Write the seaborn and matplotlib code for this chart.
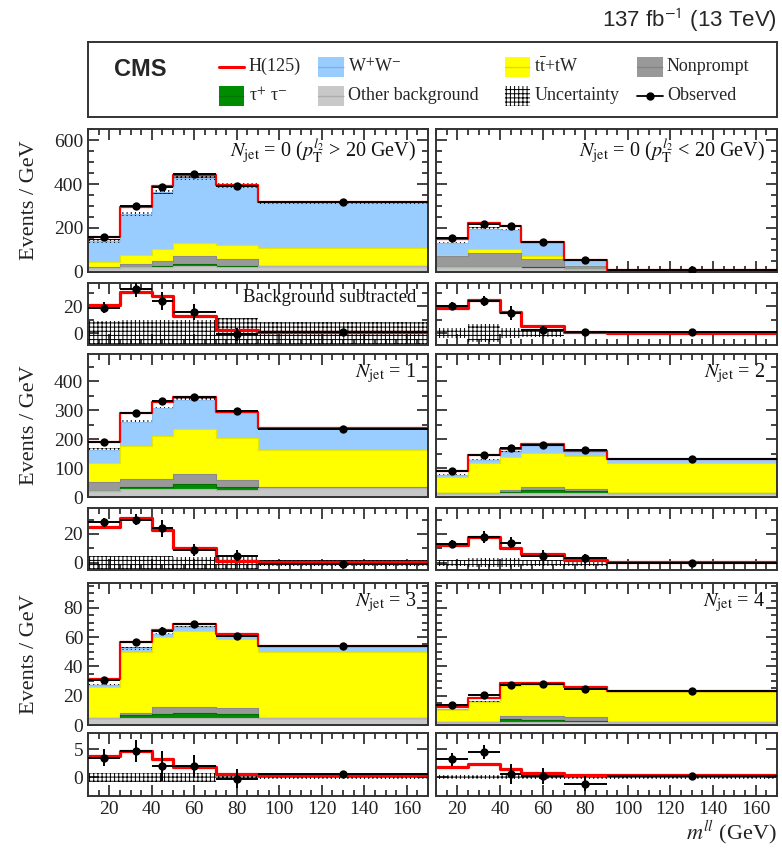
import numpy as np
import matplotlib
matplotlib.use("Agg")
import matplotlib.pyplot as plt
import seaborn as sns
from matplotlib.ticker import MultipleLocator, NullFormatter, NullLocator
from matplotlib.patches import Rectangle
from matplotlib.lines import Line2D

# ---------------- data (Events / GeV) ----------------
bin_edges = [10, 25, 40, 50, 70, 90, 170]
x_ticks = [20, 40, 60, 80, 100, 120, 140, 160]

# N_jet = 0, pT(l2) > 20 GeV
nj0a_other = [20, 22, 24, 26, 24, 26]
nj0a_tautau = [0, 1, 3, 9, 5, 0]
nj0a_nonprompt = [3, 15, 22, 37, 28, 0]
nj0a_ttbar = [21, 39, 54, 58, 65, 84]
nj0a_ww = [95, 188, 261, 298, 272, 207]
nj0a_higgs = [21, 31, 28, 13, 2, 1]
nj0a_data = [158, 298, 388, 444, 393, 318]
nj0a_err = [4, 6, 7, 6, 5, 2]
nj0a_unc = [9, 10, 10, 10, 11, 8]

# N_jet = 0, pT(l2) < 20 GeV
nj0b_other = [25, 25, 22, 18, 12, 5]
nj0b_tautau = [0, 0, 3, 3, 1, 0]
nj0b_nonprompt = [47, 62, 62, 36, 13, 0]
nj0b_ttbar = [6, 16, 16, 18, 6, 4]
nj0b_ww = [55, 93, 90, 57.5, 20.5, 0.5]
nj0b_higgs = [19, 25, 16, 5, 1, 0.2]
nj0b_data = [153, 220, 208, 135, 53, 10]
nj0b_err = [3, 4, 5, 3, 1, 0.5]
nj0b_unc = [4, 7, 4, 3, 1, 0.5]

# N_jet = 1
nj1_other = [20, 26, 26, 26, 24, 30]
nj1_tautau = [0, 9, 9, 18, 9, 0]
nj1_nonprompt = [32, 26, 29, 35, 25, 3]
nj1_ttbar = [67, 117, 146, 157, 146, 130]
nj1_ww = [45, 83, 98, 101, 88, 75]
nj1_higgs = [25, 31, 22.5, 10, 1, 0.5]
nj1_data = [192, 291, 332, 346, 297, 237]
nj1_err = [3, 4, 6, 4, 4, 1]
nj1_unc = [5, 5, 5, 4, 4, 2]

# N_jet = 2
nj2_other = [14, 14, 14, 14, 14, 14]
nj2_tautau = [0, 0, 3, 10, 7, 0]
nj2_nonprompt = [1, 1, 6, 11, 8, 1]
nj2_ttbar = [55, 102, 117, 119, 113, 102]
nj2_ww = [7, 11, 17, 22, 16, 14]
nj2_higgs = [12, 18, 10, 6, 2, 0.5]
nj2_data = [90, 146, 171, 181, 161, 131]
nj2_err = [3, 4, 4, 4, 3, 1]
nj2_unc = [2, 3, 3, 2, 2, 1]

# N_jet = 3
nj3_other = [4.5, 4.5, 4.5, 4.5, 4.5, 5]
nj3_tautau = [0, 2.5, 3, 3.5, 3, 0]
nj3_nonprompt = [0, 1, 4.5, 4, 4.1, 0]
nj3_ttbar = [21.5, 42, 48, 52, 47, 45]
nj3_ww = [1.5, 2.3, 2, 3, 2.7, 3.5]
nj3_higgs = [3.7, 4.6, 3.2, 1.8, 0.6, 0.3]
nj3_data = [31, 57, 64, 69, 61, 54]
nj3_err = [1.5, 2, 2.7, 2, 1.7, 0.5]
nj3_unc = [0.8, 0.8, 0.8, 0.8, 0.5, 0.3]

# N_jet = 4
nj4_other = [2.3, 2.3, 2.3, 2.3, 2.3, 2]
nj4_tautau = [0, 0, 1.7, 1, 0.5, 0]
nj4_nonprompt = [0, 0, 2, 2.7, 2.6, 0]
nj4_ttbar = [8, 13.2, 20.5, 21.3, 19.8, 20.6]
nj4_ww = [0.5, 0.5, 0.5, 0.5, 0.5, 0.6]
nj4_higgs = [1.8, 2.4, 1.5, 0.8, 0.3, 0.3]
nj4_data = [14, 20.5, 27.6, 28, 24.5, 23.4]
nj4_err = [1.2, 1.2, 1.8, 1.5, 1.3, 0.3]
nj4_unc = [0.3, 0.3, 0.3, 0.3, 0.3, 0.3]

panel_labels = [
    r"$N_{\rm jet}$ = 0 ($p_{\rm T}^{l_2}$ > 20 GeV)",
    r"$N_{\rm jet}$ = 0 ($p_{\rm T}^{l_2}$ < 20 GeV)",
    r"$N_{\rm jet}$ = 1",
    r"$N_{\rm jet}$ = 2",
    r"$N_{\rm jet}$ = 3",
    r"$N_{\rm jet}$ = 4",
]

# colours (stack order bottom -> top)
stack_colors = ["#c8c8c8", "#008c00", "#999999", "#ffff00", "#99ccff"]
stack_edges = ["#b4b4b4", "#007000", "#8a8a8a", "#e6e600", "#8cbfef"]
higgs_color = "#ff0000"

# ---------------- style ----------------
sns.set_theme(style="ticks")
plt.rcParams["font.family"] = ["Liberation Serif", "DejaVu Serif"]
plt.rcParams["mathtext.fontset"] = "stix"
plt.rcParams["hatch.linewidth"] = 0.7
plt.rcParams["axes.linewidth"] = 1.4
plt.rcParams["axes.edgecolor"] = "#333333"

W, H = 782, 850
fig = plt.figure(figsize=(W / 100, H / 100), dpi=100)


def rect(x0, y0, x1, y1):
    return [x0 / W, 1 - y1 / H, (x1 - x0) / W, (y1 - y0) / H]


edges = np.array(bin_edges, dtype=float)
centers = 0.5 * (edges[1:] + edges[:-1])
widths = np.diff(edges)

panels = [
    (nj0a_other, nj0a_tautau, nj0a_nonprompt, nj0a_ttbar, nj0a_ww, nj0a_higgs, nj0a_data, nj0a_err, nj0a_unc),
    (nj0b_other, nj0b_tautau, nj0b_nonprompt, nj0b_ttbar, nj0b_ww, nj0b_higgs, nj0b_data, nj0b_err, nj0b_unc),
    (nj1_other, nj1_tautau, nj1_nonprompt, nj1_ttbar, nj1_ww, nj1_higgs, nj1_data, nj1_err, nj1_unc),
    (nj2_other, nj2_tautau, nj2_nonprompt, nj2_ttbar, nj2_ww, nj2_higgs, nj2_data, nj2_err, nj2_unc),
    (nj3_other, nj3_tautau, nj3_nonprompt, nj3_ttbar, nj3_ww, nj3_higgs, nj3_data, nj3_err, nj3_unc),
    (nj4_other, nj4_tautau, nj4_nonprompt, nj4_ttbar, nj4_ww, nj4_higgs, nj4_data, nj4_err, nj4_unc),
]

rows = [
    dict(main=(129, 272), ratio=(283, 345), ylim=(0, 650), ymaj=200, ymin=50,
         rylim=(-9, 37.5), rymaj=20, rymin=10),
    dict(main=(354, 497), ratio=(508, 570), ylim=(0, 495), ymaj=100, ymin=50,
         rylim=(-5, 38), rymaj=20, rymin=10),
    dict(main=(583, 725), ratio=(733, 796), ylim=(0, 97), ymaj=20, ymin=5,
         rylim=(-3.4, 7.9), rymaj=5, rymin=None),
]
cols = [(88, 428), (436, 777)]

HATCH = "++++"


def style_axis(ax, xlabels, yl, ymaj, ymin, ylabels):
    ax.set_xlim(edges[0], edges[-1])
    ax.set_ylim(*yl)
    ax.xaxis.set_major_locator(MultipleLocator(20))
    ax.xaxis.set_minor_locator(MultipleLocator(5))
    ax.yaxis.set_major_locator(MultipleLocator(ymaj))
    if ymin:
        ax.yaxis.set_minor_locator(MultipleLocator(ymin))
    else:
        ax.yaxis.set_minor_locator(NullLocator())
    ax.tick_params(which="both", direction="in", top=True, right=True,
                   labelsize=14, colors="#222222", width=1.2)
    ax.tick_params(which="major", length=8)
    ax.tick_params(which="minor", length=4)
    if not xlabels:
        ax.xaxis.set_major_formatter(NullFormatter())
    if not ylabels:
        ax.yaxis.set_major_formatter(NullFormatter())
    ax.set_xlabel("")
    ax.set_ylabel("")
    for s in ax.spines.values():
        s.set_visible(True)


for idx, p in enumerate(panels):
    other, tautau, nonprompt, ttbar, ww, higgs, data, err, unc = [np.array(v, dtype=float) for v in p]
    r = rows[idx // 2]
    c = cols[idx % 2]
    comps = [other, tautau, nonprompt, ttbar, ww]
    cum = np.cumsum(comps, axis=0)
    total = cum[-1]

    ax = fig.add_axes(rect(c[0], r["main"][0], c[1], r["main"][1]))
    for i in reversed(range(len(comps))):
        sns.histplot(x=centers, weights=cum[i], bins=bin_edges, element="step",
                     fill=True, color=stack_colors[i], alpha=1, linewidth=0, ax=ax)
        sns.histplot(x=centers, weights=cum[i], bins=bin_edges, element="step",
                     fill=False, color=stack_edges[i], linewidth=0.8, ax=ax)
    # signal on top of background
    sns.histplot(x=centers, weights=total + higgs, bins=bin_edges, element="step",
                 fill=False, color=higgs_color, linewidth=1.6, ax=ax)
    # uncertainty
    ax.bar(centers, 2 * unc, bottom=total - unc, width=widths, fill=False,
           hatch=HATCH, edgecolor="black", linewidth=0)
    # data
    ax.errorbar(centers, data, xerr=widths / 2, yerr=err, fmt="none",
                ecolor="black", elinewidth=1.4, capsize=0, zorder=5)
    sns.scatterplot(x=centers, y=data, color="black", s=36, edgecolor="black",
                    linewidth=0, ax=ax, zorder=6)
    style_axis(ax, False, r["ylim"], r["ymaj"], r["ymin"], idx % 2 == 0)
    ax.text(0.965, 0.95, panel_labels[idx], transform=ax.transAxes,
            ha="right", va="top", fontsize=14.5, color="#111111")

    # background subtracted panel
    rax = fig.add_axes(rect(c[0], r["ratio"][0], c[1], r["ratio"][1]))
    sub = data - total
    rax.bar(centers, 2 * unc, bottom=-unc, width=widths, fill=False,
            hatch=HATCH, edgecolor="black", linewidth=0)
    sns.histplot(x=centers, weights=higgs, bins=bin_edges, element="step",
                 fill=False, color=higgs_color, linewidth=2.3, ax=rax)
    rax.errorbar(centers, sub, xerr=widths / 2, yerr=err, fmt="none",
                 ecolor="black", elinewidth=1.4, capsize=0, zorder=5)
    sns.scatterplot(x=centers, y=sub, color="black", s=36, edgecolor="black",
                    linewidth=0, ax=rax, zorder=6)
    style_axis(rax, idx >= 4, r["rylim"], r["rymaj"], r["rymin"], idx % 2 == 0)
    if idx == 0:
        rax.text(0.965, 0.9, "Background subtracted", transform=rax.transAxes,
                 ha="right", va="top", fontsize=13.5, color="#111111")

# y labels
for r in rows:
    yc = 0.5 * (r["main"][0] + r["main"][1])
    fig.text(30 / W, 1 - yc / H, "Events / GeV", rotation=90, ha="center",
             va="center", fontsize=16, color="#222222")

# x label
fig.text(777 / W, 1 - 832 / H, r"$m^{ll}$ (GeV)", ha="right", va="center",
         fontsize=16, color="#222222")

# lumi label
fig.text(777 / W, 1 - 20 / H, r"137 fb$^{\mathsf{-1}}$ (13 TeV)", ha="right",
         va="center", fontsize=16, family=["Liberation Sans", "DejaVu Sans"])

# legend box
lax = fig.add_axes(rect(88, 42, 777, 117))
lax.set_xlim(0, 1)
lax.set_ylim(0, 1)
lax.set_xticks([])
lax.set_yticks([])
for s in lax.spines.values():
    s.set_linewidth(1.4)
    s.set_color("#333333")
lax.text(0.038, 0.64, "CMS", fontsize=17, fontweight="bold",
         family=["Liberation Sans", "DejaVu Sans"], va="center", ha="left")

sw, sh = 0.037, 0.27
legend_items = [
    (0.19, 0.67, "line", higgs_color, "H(125)"),
    (0.334, 0.67, "box", stack_colors[4], r"W$^{+}$W$^{-}$"),
    (0.605, 0.67, "box", stack_colors[3], r"t$\bar{\rm t}$+tW"),
    (0.797, 0.67, "box", stack_colors[2], "Nonprompt"),
    (0.19, 0.28, "box", stack_colors[1], r"τ$^{+}$ τ$^{-}$"),
    (0.334, 0.28, "box", stack_colors[0], "Other background"),
    (0.605, 0.28, "hatch", "black", "Uncertainty"),
    (0.797, 0.28, "data", "black", "Observed"),
]
for (lx, ly, kind, col, lab) in legend_items:
    if kind == "line":
        lax.add_line(Line2D([lx, lx + sw], [ly, ly], color=col, lw=2.2))
    elif kind == "box":
        lax.add_patch(Rectangle((lx, ly - sh / 2), sw, sh, facecolor=col,
                                edgecolor="none"))
        lax.add_line(Line2D([lx, lx + sw], [ly, ly], color="#00000022", lw=1.0))
    elif kind == "hatch":
        lax.add_patch(Rectangle((lx, ly - sh / 2), sw, sh, fill=False,
                                hatch=HATCH, edgecolor="black", linewidth=0))
    else:
        lax.add_line(Line2D([lx, lx + sw], [ly, ly], color="black", lw=1.3))
        lax.plot([lx + sw / 2], [ly], "o", color="black", ms=5)
    lax.text(lx + sw + 0.006, ly, lab, va="center", ha="left", fontsize=13)

fig.savefig("out.png", dpi=100)
